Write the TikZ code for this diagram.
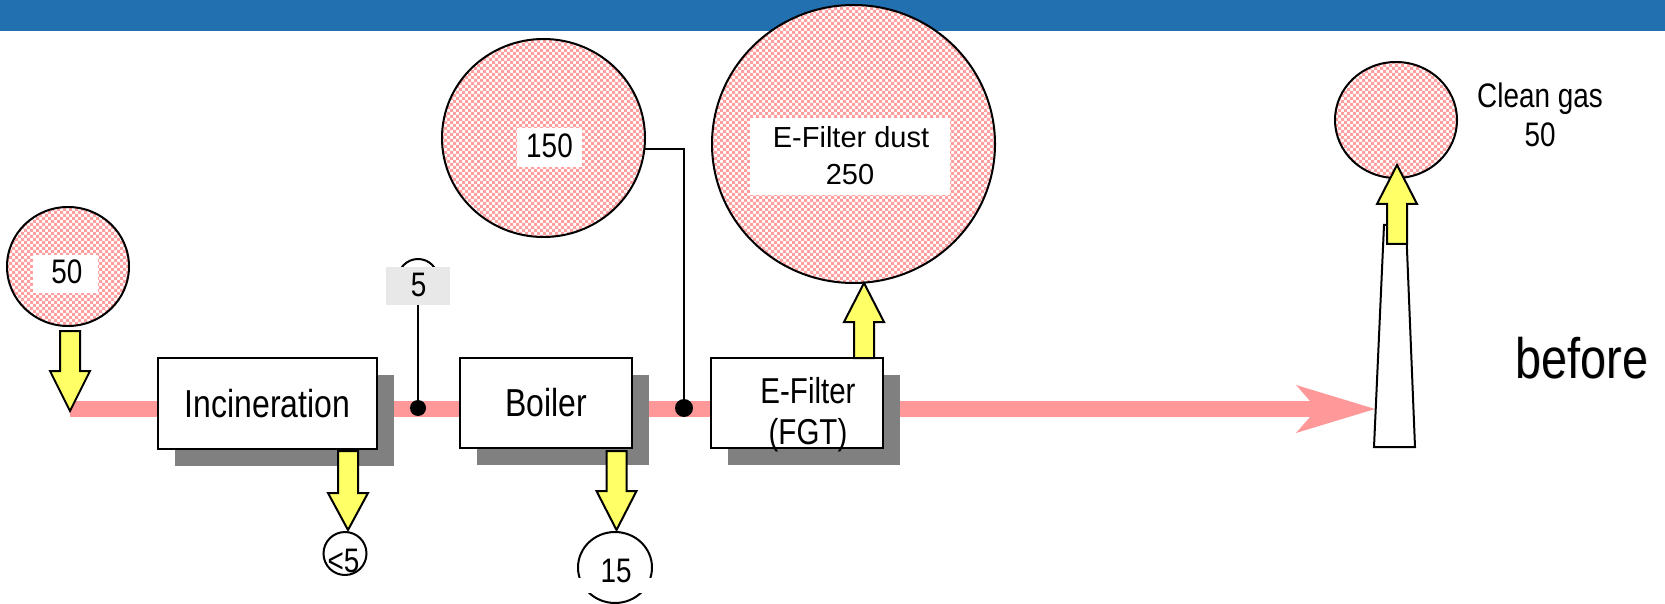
\documentclass[tikz,border=0pt]{standalone}
\usepackage{fontspec}
\setmainfont{Liberation Sans}
\newfontfamily\cf[FakeStretch=0.82]{Liberation Sans}
\usetikzlibrary{shapes.geometric,patterns,shadows,arrows.meta}
\definecolor{barblue}{RGB}{34,112,176}
\definecolor{pk}{RGB}{255,153,153}
\definecolor{pkpat}{RGB}{255,160,160}
\definecolor{shade}{RGB}{128,128,128}
\definecolor{yel}{RGB}{255,255,102}
\definecolor{lgray}{RGB}{232,232,232}
\pgfdeclarepatternformonly{chk}{\pgfqpoint{-.05pt}{-.05pt}}{\pgfqpoint{3.05pt}{3.05pt}}{\pgfqpoint{3pt}{3pt}}{%
 \pgfpathrectangle{\pgfpointorigin}{\pgfqpoint{1.5pt}{1.5pt}}%
 \pgfpathrectangle{\pgfqpoint{1.5pt}{1.5pt}}{\pgfqpoint{1.5pt}{1.5pt}}%
 \pgfusepath{fill}}
\newcommand{\blockarr}[4]{\draw[yarrow] (#1-10,#2) -- (#1+10,#2) -- (#1+10,#3) -- (#1+20,#3) -- (#1,#4) -- (#1-20,#3) -- (#1-10,#3) -- cycle;}
\tikzset{
 procbox/.style={draw, line width=1pt, fill=white, inner sep=0pt, font=\cf\fontsize{19.5}{23}\selectfont,
   drop shadow={shadow xshift=8.5pt, shadow yshift=-8.5pt, fill=shade, opacity=1}},
 pcirc/.style={ellipse, draw, line width=1pt, inner sep=0pt, preaction={fill=white}, pattern=chk, pattern color=pkpat},
 lbl/.style={fill=white, inner sep=0pt},
 txt/.style={font=\cf\fontsize{17}{20}\selectfont, anchor=base, inner sep=0pt},
 dusttxt/.style={font=\fontsize{14.5}{17}\selectfont, anchor=base, inner sep=0pt},
 conn/.style={line width=1pt},
 yarrow/.style={draw, line width=1pt, fill=yel, line join=miter},
 mainline/.style={pk, line width=8pt, -{Stealth[length=39.5pt,width=24pt,inset=10.5pt,line width=0pt]}},
 dotn/.style={circle, fill=black, inner sep=0pt},
 wcirc/.style={draw, line width=1pt, fill=white, inner sep=0pt},
}
\begin{document}
\begin{tikzpicture}[x=0.5pt,y=-0.5pt]
\useasboundingbox (0,0) rectangle (1665,604);
\fill[barblue] (0,0) rectangle (1665,31);
% main gas line
\coordinate (start) at (70,409);
\coordinate (tip) at (1375,409);
\draw[mainline] (start) -- (tip);
% process boxes
\node[procbox, minimum width=109.5pt, minimum height=45.5pt] (inc) at (267.5,403.5) {Incineration};
\node[procbox, minimum width=86pt, minimum height=45pt] (boil) at (546,403) {Boiler};
\node[procbox, minimum width=86pt, minimum height=45pt] (efil) at (797,403) {};
\node[txt, font=\cf\fontsize{18}{21}\selectfont] (efil1) at (808,403) {E-Filter};
\node[txt, font=\cf\fontsize{18}{21}\selectfont] (efil2) at (808,444) {(FGT)};
% stack
\draw[line width=1pt, fill=white] (1374,447) -- (1384,225) -- (1406,225) -- (1415,447) -- cycle;
% circles
\node[pcirc, minimum width=61pt, minimum height=59.5pt] (c50) at (68,266.5) {};
\node[lbl, minimum width=32.5pt, minimum height=19pt] (l50) at (65.5,274) {};
\node[txt] (t50) at (67,284) {50};
\node[pcirc, minimum width=101.5pt, minimum height=99pt] (c150) at (543.5,138) {};
\node[lbl, minimum width=32.5pt, minimum height=19.5pt] (l150) at (549.5,147.5) {};
\node[txt] (t150) at (549.5,158) {150};
\node[pcirc, minimum width=141.5pt, minimum height=139pt] (cdust) at (853.5,144) {};
\node[lbl, minimum width=100pt, minimum height=38.5pt] (ldust) at (850,156.5) {};
\node[dusttxt] (tdust1) at (851,148) {E-Filter dust};
\node[dusttxt] (tdust2) at (850,185) {250};
\node[pcirc, minimum width=61pt, minimum height=58pt] (cclean) at (1396,120) {};
\node[txt] (tclean1) at (1540,108) {Clean gas};
\node[txt] (tclean2) at (1540,147) {50};
% yellow block arrows
\blockarr{70}{331}{371}{411}
\blockarr{348}{451}{493}{530}
\blockarr{616.5}{451}{491}{530}
\blockarr{864}{358}{322}{283}
\blockarr{1397}{244}{204}{165}
% small circles
\node[wcirc, circle, minimum size=20pt] (c5) at (418,279) {};
\node[fill=lgray, inner sep=0pt, minimum width=32pt, minimum height=19pt] (g5) at (418,286) {};
\node[txt] (t5) at (418.5,297) {5};
\node[wcirc, circle, minimum size=21.5pt] (clt5) at (345,553.5) {};
\node[txt] (tlt5) at (343.5,572) {<5};
\node[wcirc, ellipse, minimum width=37pt, minimum height=35.5pt] (c15) at (615,567.5) {};
\fill[white] (570,578) rectangle (660,593);
\node[txt] (t15) at (616,582) {15};
% connectors and dots
\node[dotn, minimum size=8pt] (dot1) at (418,408) {};
\node[dotn, minimum size=9pt] (dot2) at (684,408) {};
\draw[conn] (g5.south) -- (dot1.center);
\draw[conn] (c150.-6) -| (dot2.center);
% before
\node[font=\cf\fontsize{28.5}{34}\selectfont, anchor=base, inner sep=0pt, text=black!15] (befsh) at (1583,379) {before};
\node[font=\cf\fontsize{28.5}{34}\selectfont, anchor=base, inner sep=0pt] (bef) at (1582,378) {before};
\end{tikzpicture}
\end{document}
